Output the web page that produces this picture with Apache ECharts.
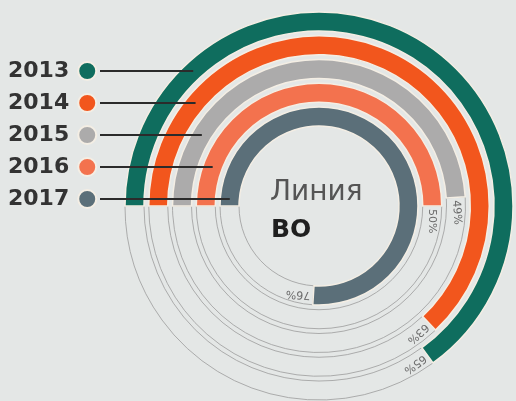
<!DOCTYPE html>
<html>
<head>
<meta charset="utf-8">
<script src="https://cdn.jsdelivr.net/npm/echarts@6/dist/echarts.min.js"></script>
<style>
html,body{margin:0;padding:0;background:#e4e7e6;}
#c{width:516px;height:401px;}
</style>
</head>
<body>
<div id="c"></div>
<script>
// Data
var years = ['2013', '2014', '2015', '2016', '2017'];
var values = [65, 63, 49, 50, 76];
var colors = ['#0f6d5e', '#f2561d', '#acabab', '#f3724e', '#5b6f79'];
var ringOrder = ['2017', '2016', '2015', '2014', '2013']; // inner -> outer
var centerLine1 = 'Линия';
var centerLine2 = 'ВО';

// Geometry
var CX = 319, CY = 206, R0 = 77.6, R1 = 196.4, BAR_W = 19;
var LEG_TOP = 55, LEG_PITCH = 32, LEG_ITEM_H = 22;

var chart = echarts.init(document.getElementById('c'));

var series = [];
years.forEach(function (y, i) {
  var idx = ringOrder.indexOf(y);
  var d = ringOrder.map(function (_, k) { return k === idx ? values[i] : '-'; });
  series.push({
    name: y,
    type: 'bar',
    coordinateSystem: 'polar',
    stack: 'ring',
    data: d,
    barWidth: BAR_W,
    z: 2,
    itemStyle: { color: colors[i], borderColor: '#f4eee4', borderWidth: 1.5 },
    label: {
      show: true,
      position: 'end',
      formatter: '{c}%',
      color: '#6a6a6a',
      fontSize: 11,
      distance: 3,
      fontFamily: 'DejaVu Sans'
    }
  });
});
// remainder track (outline only), stacked after each ring's value
series.push({
  name: 'track',
  type: 'bar',
  coordinateSystem: 'polar',
  stack: 'ring',
  data: ringOrder.map(function (y) { return 100 - values[years.indexOf(y)]; }),
  barWidth: BAR_W,
  silent: true,
  z: 1,
  itemStyle: { color: 'rgba(0,0,0,0)', borderColor: '#9c9c9c', borderWidth: 0.8 },
  label: { show: false }
});

// leader lines
var pitch = (R1 - R0) / 5;
var graphics = [];
years.forEach(function (y, i) {
  var k = ringOrder.indexOf(y);
  var rm = R0 + pitch * (k + 0.5);
  var ly = LEG_TOP + 5 + LEG_ITEM_H / 2 + LEG_PITCH * i;
  var dy = CY - ly;
  var ex = CX - Math.sqrt(Math.max(rm * rm - dy * dy, 0));
  graphics.push({
    type: 'line',
    z: 10,
    shape: { x1: 100, y1: ly, x2: ex, y2: ly },
    style: { stroke: '#2b2b2b', lineWidth: 2 }
  });
});
graphics.push({
  type: 'text', left: 270, top: 179, z: 10,
  style: { text: centerLine1, fill: '#555555', font: 'normal 28px "DejaVu Sans"' }
});
graphics.push({
  type: 'text', left: 271, top: 218, z: 10,
  style: { text: centerLine2, fill: '#1f1f1f', font: 'bold 25px "DejaVu Sans"' }
});

chart.setOption({
  backgroundColor: '#e4e7e6',
  animation: false,
  polar: { center: [CX, CY], radius: [R0, R1] },
  angleAxis: {
    type: 'value', min: 0, max: 100, startAngle: 180, clockwise: true,
    axisLine: { show: false }, axisTick: { show: false }, axisLabel: { show: false }, splitLine: { show: false }
  },
  radiusAxis: {
    type: 'category', data: ringOrder,
    axisLine: { show: false }, axisTick: { show: false }, axisLabel: { show: false }, splitLine: { show: false }
  },
  legend: {
    data: years,
    orient: 'vertical',
    left: 3,
    top: LEG_TOP,
    align: 'right',
    icon: 'circle',
    itemWidth: 18,
    itemHeight: 18,
    itemGap: LEG_PITCH - LEG_ITEM_H,
    selectedMode: false,
    textStyle: { fontSize: 22, fontWeight: 'bold', color: '#333', fontFamily: 'DejaVu Sans', padding: [0, 4, 0, 0] }
  },
  graphic: graphics,
  series: series
});
</script>
</body>
</html>
